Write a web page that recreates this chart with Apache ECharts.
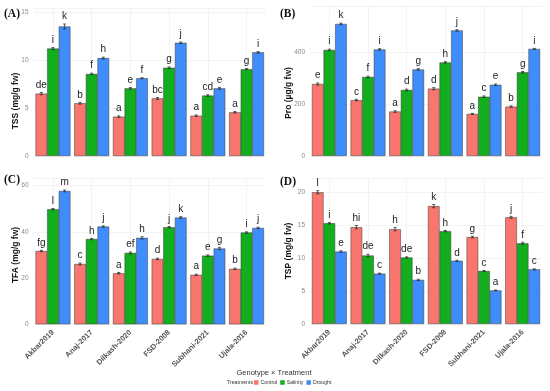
<!DOCTYPE html>
<html>
<head>
<meta charset="utf-8">
<script src="https://cdn.jsdelivr.net/npm/echarts@6/dist/echarts.min.js"></script>
<style>html,body{margin:0;padding:0;background:#fff}#c{width:550px;height:391px}</style>
</head>
<body>
<div id="c"></div>
<script>
const categories = ['Akbar2019','Anaj-2017','Dilkash-2020','FSD-2008','Subhani-2021','Ujala-2016'];
const treatments = ['Control','Salinity','Drought'];

// (A) TSS
const tssControl  = [6.5, 5.5, 4.1, 6.0, 4.2, 4.55];
const tssSalinity = [11.2, 8.55, 7.05, 9.2, 6.3, 9.05];
const tssDrought  = [13.5, 10.2, 8.1, 11.8, 7.05, 10.8];
const tssErrControl  = [0.12, 0.1, 0.08, 0.1, 0.08, 0.08];
const tssErrSalinity = [0.1, 0.08, 0.08, 0.08, 0.08, 0.06];
const tssErrDrought  = [0.25, 0.1, 0.06, 0.08, 0.1, 0.08];
const tssLetControl  = ['de','b','a','bc','a','a'];
const tssLetSalinity = ['i','f','e','g','cd','g'];
const tssLetDrought  = ['k','h','f','j','e','i'];

// (B) Pro
const proControl  = [277, 215, 171, 259, 162, 190];
const proSalinity = [408, 304, 254, 360, 228, 322];
const proDrought  = [508, 410, 333, 483, 274, 412];
const proErrControl  = [4, 3, 3, 4, 2, 3];
const proErrSalinity = [3, 3, 3, 3, 3, 3];
const proErrDrought  = [3, 3, 3, 3, 3, 2];
const proLetControl  = ['e','c','a','d','a','b'];
const proLetSalinity = ['i','f','d','h','c','g'];
const proLetDrought  = ['k','i','g','j','e','i'];

// (C) TFA
const tfaControl  = [31.7, 26.1, 22.1, 28.3, 21.4, 24.0];
const tfaSalinity = [49.8, 36.9, 30.9, 42.0, 29.7, 39.7];
const tfaDrought  = [57.7, 42.3, 37.4, 46.2, 32.8, 41.7];
const tfaErrControl  = [0.3, 0.4, 0.3, 0.3, 0.3, 0.3];
const tfaErrSalinity = [0.3, 0.3, 0.4, 0.3, 0.3, 0.3];
const tfaErrDrought  = [0.4, 0.3, 0.5, 0.4, 0.5, 0.3];
const tfaLetControl  = ['fg','c','a','d','a','b'];
const tfaLetSalinity = ['l','h','ef','j','e','i'];
const tfaLetDrought  = ['m','j','h','k','g','j'];

// (D) TSP
const tspControl  = [20.0, 14.7, 14.4, 17.9, 13.2, 16.2];
const tspSalinity = [15.3, 10.4, 10.1, 14.1, 8.05, 12.25];
const tspDrought  = [11.0, 7.65, 6.7, 9.6, 5.1, 8.3];
const tspErrControl  = [0.25, 0.25, 0.25, 0.25, 0.12, 0.15];
const tspErrSalinity = [0.1, 0.2, 0.1, 0.1, 0.08, 0.15];
const tspErrDrought  = [0.12, 0.08, 0.1, 0.08, 0.05, 0.08];
const tspLetControl  = ['l','hi','h','k','g','j'];
const tspLetSalinity = ['i','de','de','h','c','f'];
const tspLetDrought  = ['e','c','b','d','a','c'];

const colors = ['#F8766D', '#12AE1E', '#3F8DFB'];
const FONT = '"Liberation Sans", Arial, sans-serif';

const panels = [
  {title:'(A)', yname:'TSS (mg/g fw)', max:15.42, interval:5, vals:[tssControl,tssSalinity,tssDrought], errs:[tssErrControl,tssErrSalinity,tssErrDrought], lets:[tssLetControl,tssLetSalinity,tssLetDrought], grid:{left:33.6, top:8, width:232.3, height:148}, showX:false, lab:[4,15], yt:[16,101]},
  {title:'(B)', yname:'Pro (µg/g fw)', max:577, interval:200, vals:[proControl,proSalinity,proDrought], errs:[proErrControl,proErrSalinity,proErrDrought], lets:[proLetControl,proLetSalinity,proLetDrought], grid:{left:310, top:6, width:232, height:150}, showX:false, lab:[280,15], yt:[289,93]},
  {title:'(C)', yname:'TFA (mg/g fw)', max:63.3, interval:20, vals:[tfaControl,tfaSalinity,tfaDrought], errs:[tfaErrControl,tfaErrSalinity,tfaErrDrought], lets:[tfaLetControl,tfaLetSalinity,tfaLetDrought], grid:{left:33.6, top:178, width:232.3, height:146.3}, showX:true, lab:[4,181], yt:[16,255]},
  {title:'(D)', yname:'TSP (mg/g fw)', max:22.17, interval:5, vals:[tspControl,tspSalinity,tspDrought], errs:[tspErrControl,tspErrSalinity,tspErrDrought], lets:[tspLetControl,tspLetSalinity,tspLetDrought], grid:{left:310, top:178, width:232, height:146}, showX:true, lab:[280,183], yt:[289,251]}
];

const grid = [], xAxis = [], yAxis = [], series = [], graphic = [];
panels.forEach((p, gi) => {
  grid.push(Object.assign({containLabel:false}, p.grid));
  xAxis.push({
    type:'category', gridIndex:gi, data:categories,
    axisLine:{show:false}, axisTick:{show:false},
    splitLine:{show:true, alignWithLabel:true, lineStyle:{color:'#ebebeb', width:0.6}},
    axisLabel:{show:p.showX, rotate:45, margin:7, fontSize:7.5, fontWeight:'bold', color:'#555', fontFamily:FONT}
  });
  const iv = p.interval;
  yAxis.push({
    type:'value', gridIndex:gi, min:0, max:p.max, interval:iv,
    axisLine:{show:false}, axisTick:{show:false},
    splitLine:{show:true, lineStyle:{color:'#ebebeb', width:0.6}},
    axisLabel:{fontSize:6.5, color:'#8a8a8a', margin:5, fontFamily:FONT,
      formatter: v => (Math.abs(v/iv - Math.round(v/iv)) < 1e-6 ? String(v) : '')}
  });
  treatments.forEach((t, ti) => {
    series.push({
      type:'bar', name:t, xAxisIndex:gi, yAxisIndex:gi,
      data:p.vals[ti], barGap:'0%', barCategoryGap:'10%',
      itemStyle:{color:colors[ti], borderColor:'#3a3a3a', borderWidth:0.5},
      emphasis:{disabled:true}
    });
  });
  treatments.forEach((t, ti) => {
    const vals = p.vals[ti], errs = p.errs[ti], lets = p.lets[ti];
    series.push({
      type:'custom', xAxisIndex:gi, yAxisIndex:gi, z:5,
      data: vals.map((v, i) => [i, v, errs[i]]),
      encode:{x:0, y:1},
      renderItem: (params, api) => {
        const i = api.value(0), v = api.value(1), e = api.value(2);
        const band = api.size([1, 0])[0];
        const cx = api.coord([i, v])[0] + (ti - 1) * band * 0.3;
        const yTop = api.coord([i, v + e])[1];
        const yBot = api.coord([i, v - e])[1];
        const cap = band * 0.04;
        const st = {stroke:'#222', lineWidth:0.7};
        return {type:'group', children:[
          {type:'line', shape:{x1:cx, y1:yTop, x2:cx, y2:yBot}, style:st},
          {type:'line', shape:{x1:cx-cap, y1:yTop, x2:cx+cap, y2:yTop}, style:st},
          {type:'line', shape:{x1:cx-cap, y1:yBot, x2:cx+cap, y2:yBot}, style:st},
          {type:'text', style:{text:lets[params.dataIndex], x:cx, y:yTop-2.5, align:'center', verticalAlign:'bottom', fontSize:10, fontFamily:FONT, fill:'#222'}}
        ]};
      }
    });
  });
  graphic.push({type:'text', left:p.lab[0], top:p.lab[1]-7, style:{text:p.title, font:'bold 11.5px "Liberation Serif", "Times New Roman", serif', fill:'#111'}});
  graphic.push({type:'text', x:p.yt[0], y:p.yt[1], rotation:Math.PI/2, style:{text:p.yname, align:'center', verticalAlign:'middle', font:'bold 8.5px ' + FONT, fill:'#111'}});
});

graphic.push({type:'text', x:274, y:373, style:{text:'Genotype × Treatment', align:'center', verticalAlign:'middle', fontSize:7.5, fontFamily:FONT, fill:'#333'}});
graphic.push({type:'text', x:227, y:383, style:{text:'Treatments', align:'left', verticalAlign:'middle', fontSize:5.2, fontFamily:FONT, fill:'#333'}});

const chart = echarts.init(document.getElementById('c'), null, {renderer:'canvas'});
chart.setOption({
  animation:false,
  backgroundColor:'#fff',
  grid, xAxis, yAxis, series, graphic,
  legend:{data:treatments, left:252, top:378, itemWidth:4.5, itemHeight:4.5, itemGap:3, icon:'rect', padding:2,
    textStyle:{fontSize:5.2, color:'#333', fontFamily:FONT, padding:[0,0,0,-3]},
    itemStyle:{borderWidth:0}}
});
</script>
</body>
</html>
